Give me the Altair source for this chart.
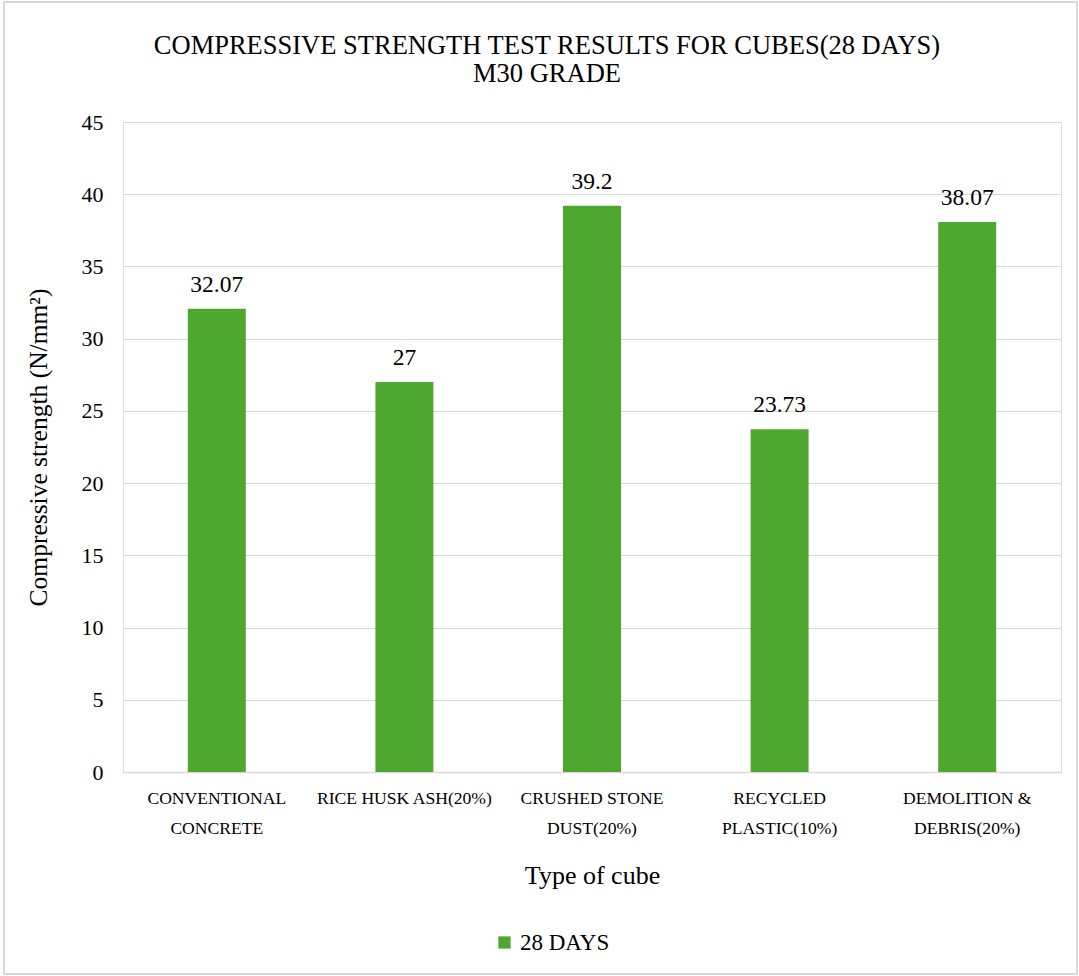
import altair as alt
import pandas as pd

categories = ["CONVENTIONAL|CONCRETE", "RICE HUSK ASH(20%)", "CRUSHED STONE|DUST(20%)",
              "RECYCLED|PLASTIC(10%)", "DEMOLITION &|DEBRIS(20%)"]
values = [32.07, 27, 39.2, 23.73, 38.07]
series = ["28 DAYS"] * 5

df = pd.DataFrame({"cat": categories, "val": values, "series": series})

FONT = "Liberation Serif"
GREEN = "#4EA72E"
W, H = 938, 650

base = alt.Chart(df).encode(
    x=alt.X("cat:N", sort=categories,
            scale=alt.Scale(paddingInner=0.69, paddingOuter=0.345),
            axis=alt.Axis(title="Type of cube", labelAngle=0,
                          labelExpr="split(datum.label, '|')",
                          labelFont=FONT, labelFontSize=17.6, labelColor="#000000",
                          labelLineHeight=30, labelPadding=17,
                          titleFont=FONT, titleFontSize=26, titleFontWeight="normal",
                          titleColor="#000000", titlePadding=26,
                          ticks=False, domainColor="#d9d9d9", domainWidth=1.5)),
)

bars = base.mark_bar(size=58).encode(
    y=alt.Y("val:Q", scale=alt.Scale(domain=[0, 45]),
            axis=alt.Axis(title="Compressive strength (N/mm²)", values=list(range(0, 50, 5)),
                          labelFont=FONT, labelFontSize=22, labelColor="#000000",
                          labelPadding=20, ticks=False, domain=False,
                          gridColor="#d9d9d9", gridWidth=1.2,
                          titleFont=FONT, titleFontSize=25.5, titleFontWeight="normal",
                          titleColor="#000000", titlePadding=30)),
    color=alt.Color("series:N", scale=alt.Scale(range=[GREEN]),
                    legend=alt.Legend(title=None, orient="none", legendX=370, legendY=809,
                                      symbolType="square", symbolSize=150,
                                      labelFont=FONT, labelFontSize=23, labelColor="#000000",
                                      symbolStrokeWidth=0)),
)

labels = base.mark_text(dy=-12, baseline="bottom", font=FONT, fontSize=23.5, color="#000000").encode(
    y="val:Q", text=alt.Text("val:Q", format="~f")
)

border = alt.Chart(pd.DataFrame({"a": [0]})).mark_rect(
    fill=None, stroke="#d9d9d9", strokeWidth=2
).encode(x=alt.value(-119), x2=alt.value(W + 16), y=alt.value(-120), y2=alt.value(H + 202))

chart = alt.layer(border, bars, labels).properties(
    width=W, height=H,
    padding={"left": 123, "top": 122, "right": 18, "bottom": 204},
    autosize=alt.AutoSizeParams(type="none"),
    title=alt.Title(["COMPRESSIVE STRENGTH TEST RESULTS FOR CUBES(28 DAYS)", "M30 GRADE"],
                    font=FONT, fontSize=26.5, fontWeight="normal", color="#000000",
                    lineHeight=28, offset=-86, dx=-45, anchor="middle"),
).configure_view(stroke=None).configure(background="white")

chart.save("out.html", embed_options={"renderer": "svg", "actions": False})
